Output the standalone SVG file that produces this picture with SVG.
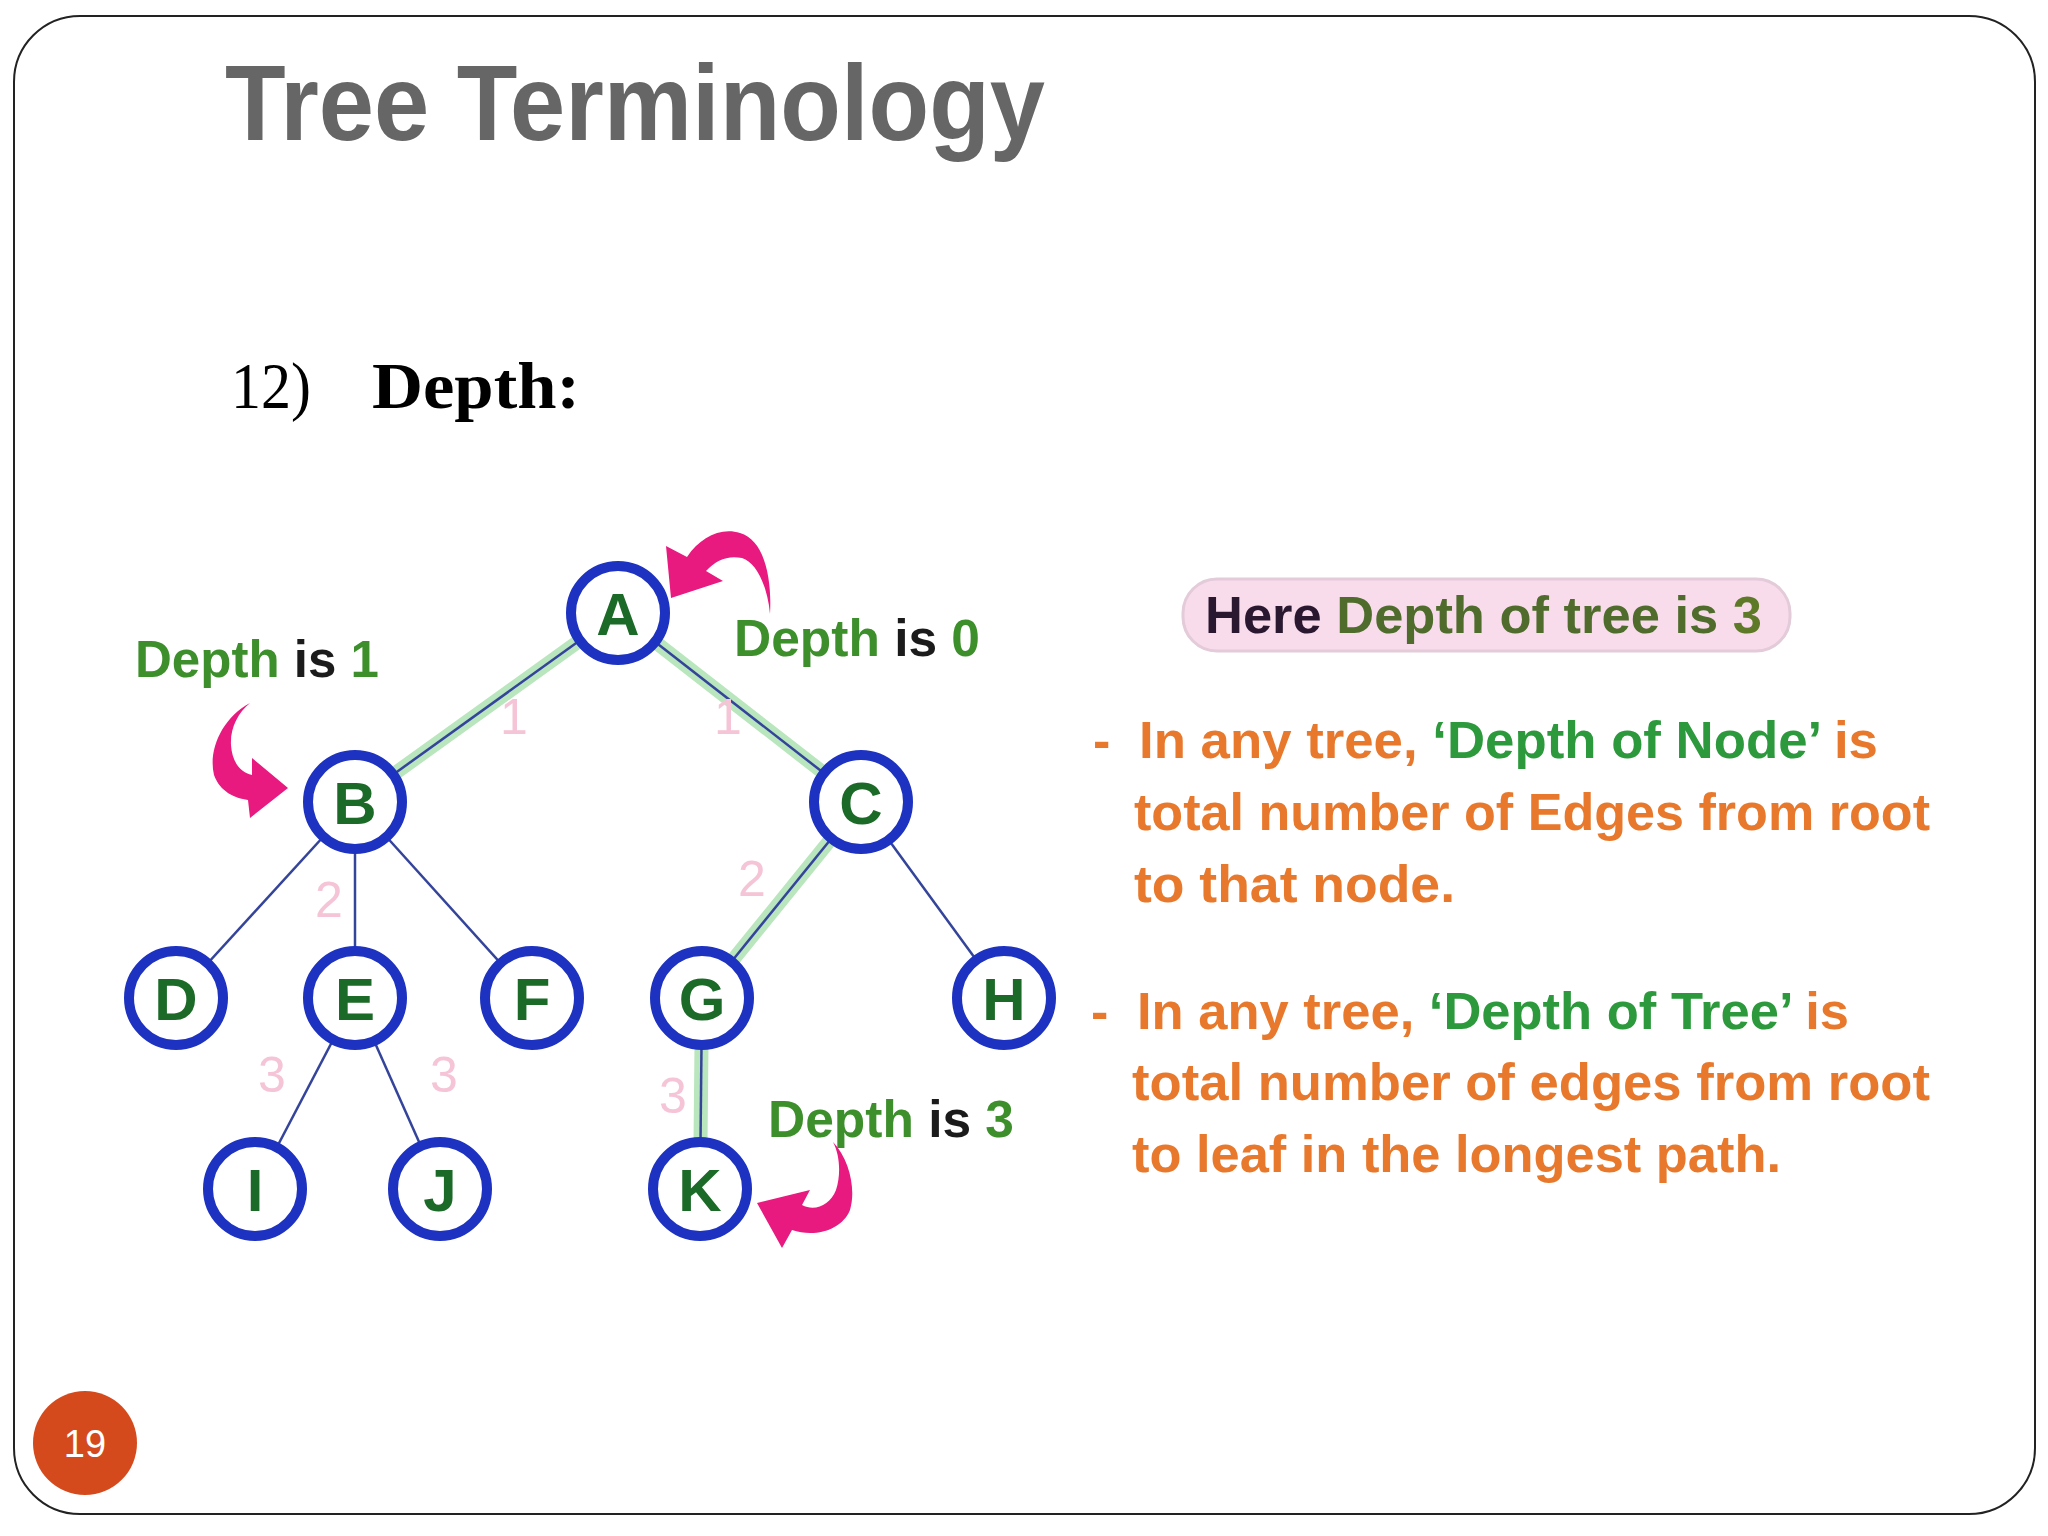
<svg xmlns="http://www.w3.org/2000/svg" width="2048" height="1536" viewBox="0 0 2048 1536">
<style>
.frame{fill:#fff;stroke:#222;stroke-width:2}
.title{font-family:"Liberation Sans",Arial,sans-serif;font-weight:bold;font-size:108px;fill:#666}
.sub{font-family:"Liberation Serif","Times New Roman",serif;font-size:66px;fill:#000}
.halo{stroke:#b9e6bd;stroke-width:14;fill:none;stroke-linecap:round}
.edge{stroke:#34449a;stroke-width:2.5;fill:none}
.node circle{fill:#fff;stroke:#1d32c0;stroke-width:10}
.node text{font-family:"Liberation Sans",Arial,sans-serif;font-weight:bold;font-size:60px;fill:#1c6a28;text-anchor:middle}
.elab{font-family:"Liberation Sans",Arial,sans-serif;font-size:50px;fill:#f5c4d6;text-anchor:middle}
.lbl{font-family:"Liberation Sans",Arial,sans-serif;font-weight:bold;font-size:52px}
.g{fill:#3d8f2c}
.k{fill:#1b1b1b}
.arrow{fill:#e8197f}
.box{fill:#f9dcec;stroke:#e3cbd9;stroke-width:3}
.desc{font-family:"Liberation Sans",Arial,sans-serif;font-weight:bold;font-size:52px;fill:#e8792c}
.dg{fill:#2c9a3c}
.pg{font-family:"Liberation Sans",Arial,sans-serif;font-size:38px;fill:#fff;text-anchor:middle}
</style>
<rect class="frame" x="14" y="16" width="2021" height="1498" rx="66" ry="66"/>
<text class="title" x="225" y="140" textLength="820" lengthAdjust="spacingAndGlyphs">Tree Terminology</text>
<text class="sub" x="231" y="408" textLength="80" lengthAdjust="spacingAndGlyphs">12)</text>
<text class="sub" x="372" y="408" font-weight="bold" textLength="208" lengthAdjust="spacingAndGlyphs">Depth:</text>

<g id="connectors">
<line class="halo" x1="618" y1="613" x2="355" y2="802"/>
<line class="halo" x1="618" y1="613" x2="861" y2="802"/>
<line class="halo" x1="861" y1="802" x2="702" y2="998"/>
<line class="halo" x1="702" y1="998" x2="700" y2="1189"/>
<line class="edge" x1="618" y1="613" x2="355" y2="802"/>
<line class="edge" x1="618" y1="613" x2="861" y2="802"/>
<line class="edge" x1="355" y1="802" x2="176" y2="998"/>
<line class="edge" x1="355" y1="802" x2="355" y2="998"/>
<line class="edge" x1="355" y1="802" x2="532" y2="998"/>
<line class="edge" x1="861" y1="802" x2="702" y2="998"/>
<line class="edge" x1="861" y1="802" x2="1004" y2="998"/>
<line class="edge" x1="355" y1="998" x2="255" y2="1189"/>
<line class="edge" x1="355" y1="998" x2="440" y2="1189"/>
<line class="edge" x1="702" y1="998" x2="700" y2="1189"/>
<text class="elab" x="514" y="734">1</text>
<text class="elab" x="728" y="734">1</text>
<text class="elab" x="329" y="917">2</text>
<text class="elab" x="752" y="896">2</text>
<text class="elab" x="272" y="1092">3</text>
<text class="elab" x="444" y="1092">3</text>
<text class="elab" x="673" y="1113">3</text>
</g>

<g id="node-A" class="node"><circle cx="618" cy="613" r="47"/><text x="618" y="635">A</text></g>
<g id="node-B" class="node"><circle cx="355" cy="802" r="47"/><text x="355" y="824">B</text></g>
<g id="node-C" class="node"><circle cx="861" cy="802" r="47"/><text x="861" y="824">C</text></g>
<g id="node-D" class="node"><circle cx="176" cy="998" r="47"/><text x="176" y="1020">D</text></g>
<g id="node-E" class="node"><circle cx="355" cy="998" r="47"/><text x="355" y="1020">E</text></g>
<g id="node-F" class="node"><circle cx="532" cy="998" r="47"/><text x="532" y="1020">F</text></g>
<g id="node-G" class="node"><circle cx="702" cy="998" r="47"/><text x="702" y="1020">G</text></g>
<g id="node-H" class="node"><circle cx="1004" cy="998" r="47"/><text x="1004" y="1020">H</text></g>
<g id="node-I" class="node"><circle cx="255" cy="1189" r="47"/><text x="255" y="1211">I</text></g>
<g id="node-J" class="node"><circle cx="440" cy="1189" r="47"/><text x="440" y="1211">J</text></g>
<g id="node-K" class="node"><circle cx="700" cy="1189" r="47"/><text x="700" y="1211">K</text></g>

<g id="labels">
<text class="lbl" x="135" y="677" textLength="244" lengthAdjust="spacingAndGlyphs"><tspan class="g">Depth </tspan><tspan class="k">is </tspan><tspan class="g">1</tspan></text>
<text class="lbl" x="734" y="656" textLength="246" lengthAdjust="spacingAndGlyphs"><tspan class="g">Depth </tspan><tspan class="k">is </tspan><tspan class="g">0</tspan></text>
<text class="lbl" x="768" y="1137" textLength="246" lengthAdjust="spacingAndGlyphs"><tspan class="g">Depth </tspan><tspan class="k">is </tspan><tspan class="g">3</tspan></text>
</g>

<g id="arrows">
<path class="arrow" d="M 770,614 C 772,580 765,540 740,533 C 720,527 700,538 687,557 L 666,546 L 671,598 L 723,581 L 706,571 C 716,560 728,555 742,558 C 758,563 768,590 770,614 Z"/>
<path class="arrow" d="M 250,703 C 222,718 208,750 214,775 C 220,792 235,798 248,800 L 250,818 L 288,788 L 252,758 L 252,775 C 240,772 232,762 231,745 C 230,728 238,713 250,703 Z"/>
<path class="arrow" d="M 833,1142 C 850,1160 856,1190 850,1210 C 842,1230 815,1238 792,1230 L 782,1248 L 757,1203 L 810,1190 L 802,1205 C 815,1212 830,1205 836,1190 C 841,1175 840,1155 833,1142 Z"/>
</g>

<g id="summary">
<rect class="box" x="1183" y="579" width="607" height="72" rx="34" ry="34"/>
<text class="lbl" x="1205" y="633" font-size="52" textLength="557" lengthAdjust="spacingAndGlyphs"><tspan fill="#2a1830">Here </tspan><tspan fill="#4f6c2c">Depth of tree is </tspan><tspan fill="#5e7a28">3</tspan></text>
</g>

<g id="description">
<text class="desc" x="1093" y="758">-</text>
<text class="desc" x="1139" y="758" textLength="739" lengthAdjust="spacingAndGlyphs">In any tree, <tspan class="dg">‘Depth of Node’</tspan> is</text>
<text class="desc" x="1134" y="830" textLength="796" lengthAdjust="spacingAndGlyphs">total number of Edges from root</text>
<text class="desc" x="1134" y="902" textLength="321" lengthAdjust="spacingAndGlyphs">to that node.</text>
<text class="desc" x="1091" y="1029">-</text>
<text class="desc" x="1137" y="1029" textLength="712" lengthAdjust="spacingAndGlyphs">In any tree, <tspan class="dg">‘Depth of Tree’</tspan> is</text>
<text class="desc" x="1132" y="1100" textLength="798" lengthAdjust="spacingAndGlyphs">total number of edges from root</text>
<text class="desc" x="1132" y="1172" textLength="649" lengthAdjust="spacingAndGlyphs">to leaf in the longest path.</text>
</g>

<g id="page-number">
<circle cx="85" cy="1443" r="52" fill="#d44a1c"/>
<text class="pg" x="85" y="1457">19</text>
</g>
</svg>
